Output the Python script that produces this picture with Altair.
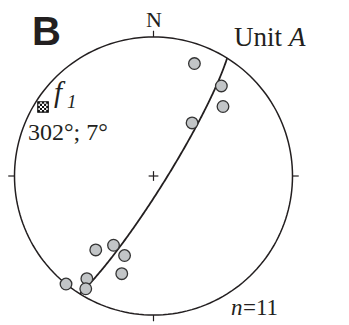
import numpy as np
import pandas as pd
import altair as alt

# Poles measured in Unit A (trend, plunge in degrees)
trend = [20, 37, 45, 36, 218, 210, 200, 198, 213, 219, 211]
plunge = [15, 20, 30, 51, 33, 42, 39, 27, 13, 0, 6]

# Fold axis f1 (trend; plunge)
f1_trend = 302
f1_plunge = 7

# Cardinal tick azimuths on the primitive
tick_az = [0, 90, 180, 270]

W, H = 349, 325
xs = alt.Scale(domain=[-1.1043, 1.4065], nice=False, zero=False)
ys = alt.Scale(domain=[-1.0719, 1.2662], nice=False, zero=False)

INK = "#231f20"


def project(tr, pl):
    """Lambert equal-area (Schmidt) projection, lower hemisphere."""
    tr = np.radians(np.asarray(tr, dtype=float))
    pl = np.asarray(pl, dtype=float)
    r = np.sqrt(2) * np.sin(np.radians(90 - pl) / 2)
    return r * np.sin(tr), r * np.cos(tr)


# data points
px, py = project(trend, plunge)
pts = pd.DataFrame({"x": px, "y": py})

# primitive circle
az = np.radians(np.arange(0, 361, 2))
prim = pd.DataFrame({"x": np.sin(az), "y": np.cos(az), "i": np.arange(len(az))})

# great circle of the plane normal to f1
dd = np.radians(f1_trend + 180)
dip = np.radians(90 - f1_plunge)
st = np.radians(f1_trend + 90)
s = np.array([np.sin(st), np.cos(st), 0.0])
d = np.array([np.cos(dip) * np.sin(dd), np.cos(dip) * np.cos(dd), np.sin(dip)])
a = np.radians(np.linspace(0, 180, 181))
v = np.outer(np.cos(a), s) + np.outer(np.sin(a), d)
gc_tr = np.degrees(np.arctan2(v[:, 0], v[:, 1]))
gc_pl = np.degrees(np.arcsin(np.clip(v[:, 2], -1, 1)))
gx, gy = project(gc_tr, gc_pl)
gc = pd.DataFrame({"x": gx, "y": gy, "i": np.arange(len(gx))})

# f1 symbol location
fx, fy = project([f1_trend], [f1_plunge])
f1 = pd.DataFrame({"x": fx, "y": fy})

# tick marks outside the primitive
ta = np.radians(tick_az)
ticks = pd.DataFrame({
    "x": np.sin(ta), "y": np.cos(ta),
    "x2": 1.045 * np.sin(ta), "y2": 1.045 * np.cos(ta),
})

# centre cross
c = 0.035
cross = pd.DataFrame({"x": [-c, 0], "x2": [c, 0], "y": [0, -c], "y2": [0, c]})

X = lambda f: alt.X(f, type="quantitative", scale=xs, axis=None)
Y = lambda f: alt.Y(f, type="quantitative", scale=ys, axis=None)

prim_l = alt.Chart(prim).mark_line(color=INK, strokeWidth=1.5).encode(
    x=X("x"), y=Y("y"), order="i:Q")
gc_l = alt.Chart(gc).mark_line(color=INK, strokeWidth=1.8).encode(
    x=X("x"), y=Y("y"), order="i:Q")
tick_l = alt.Chart(ticks).mark_rule(color=INK, strokeWidth=1.2).encode(
    x=X("x"), y=Y("y"), x2="x2", y2="y2")
cross_l = alt.Chart(cross).mark_rule(color=INK, strokeWidth=1.2).encode(
    x=X("x"), y=Y("y"), x2="x2", y2="y2")
pts_l = alt.Chart(pts).mark_point(
    shape="circle", filled=True, size=135, fill="#c2c5c7", stroke="#333333",
    strokeWidth=1.3, opacity=1).encode(x=X("x"), y=Y("y"))

# checkered square for f1
n = 5
cell = 2.0 / n
path = ""
for i in range(n):
    for j in range(n):
        if (i + j) % 2 == 0:
            x0 = -1 + i * cell
            y0 = -1 + j * cell
            path += f"M{x0:.2f},{y0:.2f}h{cell:.2f}v{cell:.2f}h{-cell:.2f}z"
f1_fill = alt.Chart(f1).mark_point(
    shape=path, filled=True, size=110, color="#111111", opacity=1).encode(
    x=X("x"), y=Y("y"))
f1_box = alt.Chart(f1).mark_point(
    shape="square", filled=False, size=110, color="#111111", strokeWidth=1.2,
    opacity=1).encode(x=X("x"), y=Y("y"))


def label(text, x, y, size, font="Liberation Serif", style="normal",
          weight="normal", align="left"):
    return alt.Chart(pd.DataFrame({"t": [text]})).mark_text(
        font=font, fontSize=size, fontStyle=style, fontWeight=weight,
        align=align, baseline="alphabetic", color=INK).encode(
        text="t:N", x=alt.value(x), y=alt.value(y))


labels = [
    label("B", 32, 45, 40, font="Liberation Sans", weight="bold"),
    label("N", 154, 27, 22, align="center"),
    label("Unit ", 234, 46, 27),
    label("A", 289, 46, 27, style="italic"),
    label("f", 54, 102, 29, style="italic"),
    label("1", 67, 108, 19, style="italic"),
    label("302°; 7°", 28, 140, 24),
    label("n", 231, 315, 23, style="italic"),
    label("=11", 243, 315, 23),
]

chart = alt.layer(
    prim_l, tick_l, cross_l, gc_l, pts_l, f1_fill, f1_box, *labels
).properties(
    width=W, height=H, autosize=alt.AutoSizeParams(type="none"),
    padding=0, background="white"
).configure_view(stroke=None)

chart.save("out.html", embed_options={"renderer": "svg", "actions": False})
